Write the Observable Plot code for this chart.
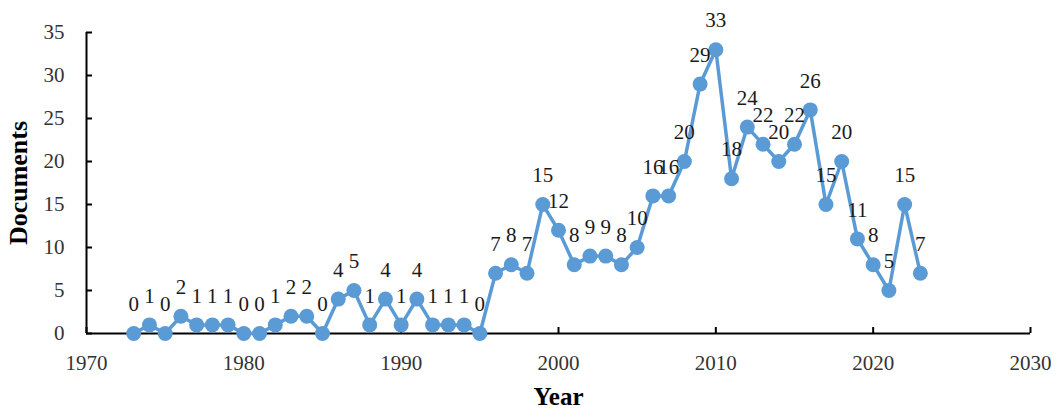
<!DOCTYPE html>
<html>
<head>
<meta charset="utf-8">
<script src="https://cdn.jsdelivr.net/npm/d3@7"></script>
<script src="https://cdn.jsdelivr.net/npm/@observablehq/plot@0.6"></script>
<style>
  html, body { margin: 0; padding: 0; background: #fff; }
  #chart svg { font-family: "Liberation Serif", "DejaVu Serif", serif; }
  g[aria-label="y-axis label"] text { font-size: 26px; font-weight: bold; fill: #000; }
  g[aria-label="x-axis label"] text { font-size: 25px; font-weight: bold; fill: #000; }
</style>
</head>
<body>
<div id="chart"></div>
<script>
const years = [1973,1974,1975,1976,1977,1978,1979,1980,1981,1982,1983,1984,1985,1986,1987,1988,1989,1990,1991,1992,1993,1994,1995,1996,1997,1998,1999,2000,2001,2002,2003,2004,2005,2006,2007,2008,2009,2010,2011,2012,2013,2014,2015,2016,2017,2018,2019,2020,2021,2022,2023];
const documents = [0,1,0,2,1,1,1,0,0,1,2,2,0,4,5,1,4,1,4,1,1,1,0,7,8,7,15,12,8,9,9,8,10,16,16,20,29,33,18,24,22,20,22,26,15,20,11,8,5,15,7];
const xTicks = [1970,1980,1990,2000,2010,2020,2030];
const yTicks = [0,5,10,15,20,25,30,35];

const data = years.map((y, i) => ({year: y, docs: documents[i]}));
const color = "#5B9BD5";

const chart = Plot.plot({
  width: 1057,
  height: 409,
  marginLeft: 86,
  marginRight: 27,
  marginTop: 32,
  marginBottom: 76,
  style: {fontFamily: "Liberation Serif, DejaVu Serif, serif", background: "#fff"},
  x: {domain: [1970, 2030]},
  y: {domain: [0, 35]},
  marks: [
    Plot.axisX({ticks: xTicks, tickFormat: d => String(d), tickSize: -6, tickPadding: 28, fontSize: 21, color: "#333", stroke: "#000", strokeWidth: 2,
      label: "Year", labelAnchor: "center", labelArrow: "none", labelOffset: 71}),
    Plot.axisY({ticks: yTicks, tickSize: -6, tickPadding: 28, fontSize: 21, color: "#333", stroke: "#000", strokeWidth: 2,
      label: "Documents", labelAnchor: "center", labelArrow: "none", labelOffset: 78}),
    Plot.ruleY([0], {stroke: "#000", strokeWidth: 2}),
    Plot.ruleX([1970], {stroke: "#000", strokeWidth: 2}),
    Plot.line(data, {x: "year", y: "docs", stroke: color, strokeWidth: 3.5}),
    Plot.dot(data, {x: "year", y: "docs", r: 7.5, fill: color, stroke: "none"}),
    Plot.text(data, {x: "year", y: "docs", text: d => String(d.docs), dy: -29, fontSize: 21, fill: "#1a1a1a"})
  ]
});
document.getElementById("chart").appendChild(chart);
</script>
</body>
</html>
